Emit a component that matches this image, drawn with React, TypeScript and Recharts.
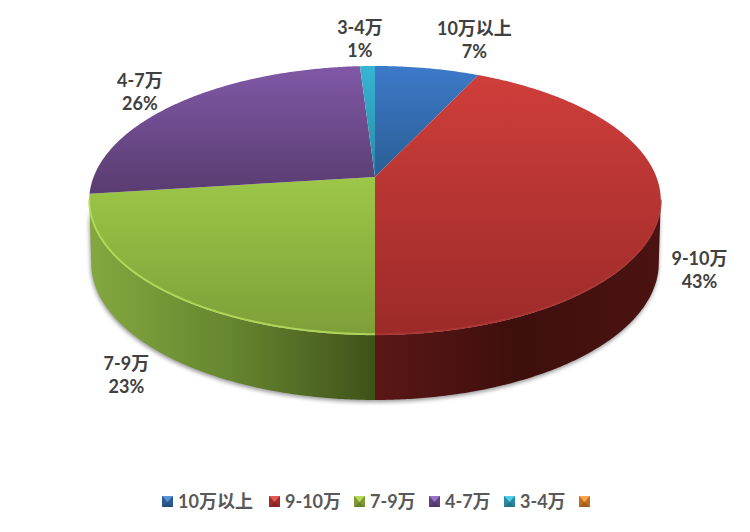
import React from "react";
import { PieChart, Pie, Legend } from "recharts";

// ---- data ----
const sliceNames = ["10万以上", "9-10万", "7-9万", "4-7万", "3-4万", ""];
const sliceValues = [7, 43, 23, 26, 1, 0];
const chartData = sliceNames.map((name, i) => ({ name, value: sliceValues[i] }));

// ---- styles ----
const topLight = ["#3c79c8", "#cf3e3a", "#9cc748", "#8058a6", "#36b5d3", "#f79646"];
const topDark = ["#2b5e95", "#9b2a29", "#7e9f38", "#593c70", "#2a8aa3", "#b86d2a"];
const wallStops = [
  ["#2b5e95", "#1c3f63"],
  ["#5a1716", "#3e0f0d", "#4b1312"],
  ["#84a83f", "#66852f", "#3f5219"],
  ["#593c70", "#3b2849"],
  ["#2a8aa3", "#1c5c6d"],
  ["#b86d2a", "#7a481b"],
];
const rimColors = ["#5a94dc", "#ae3836", "#b9e05f", "#9a78bb", "#6acfe6", "#f8b070"];
const legendBase = ["#2c5c92", "#a02c2a", "#7f9a35", "#5f4280", "#2a88a2", "#c06f22"];
const legendHi = ["#5a93d8", "#e05a55", "#b5dc55", "#9a72c6", "#52cfe8", "#f9a64a"];
const legendSteps = [107, 85, 75, 75, 75, 20];
const labelOffsets = [
  [47, -40],
  [39, 51.5],
  [-34.5, 73.5],
  [-40, -22],
  [-7.5, -39],
  [0, 0],
];

// ---- geometry of the tilted disc ----
const CX = 375;
const CY = 177;
const RADIUS = 281.4;
const K = 0.1747;
const TILT = 0.4634;
const WALL_DROP = 62;
const WALL_SCALE = 0.993;
const WALL_TILT = 1.0186;
const FRONT_FROM = 100;
const FRONT_TO = 260;

const project = (theta: number, r: number, wall = false) => {
  const t = (theta * Math.PI) / 180;
  const u = Math.sin(t) * r;
  const v = -Math.cos(t) * r;
  const w = 1 - K * v;
  return {
    x: CX + (RADIUS * (wall ? WALL_SCALE : 1) * u) / w,
    y: CY + (wall ? WALL_DROP : 0) + (RADIUS * TILT * (wall ? WALL_TILT : 1) * v) / w,
  };
};
const arc = (a: number, b: number, wall = false) => {
  const pts: string[] = [];
  const n = Math.max(2, Math.ceil(Math.abs(b - a) * 2));
  for (let i = 0; i <= n; i++) {
    const p = project(a + ((b - a) * i) / n, 1, wall);
    pts.push(`${p.x.toFixed(2)} ${p.y.toFixed(2)}`);
  }
  return pts;
};
const thetaRange = (props: any) => [90 - props.startAngle, 90 - props.endAngle];
const frontRange = (a: number, b: number) => [Math.max(a, FRONT_FROM), Math.min(b, FRONT_TO)];

const TopShape = (props: any) => {
  const [a, b] = thetaRange(props);
  if (b - a <= 0) return <g />;
  const i = sliceNames.indexOf(props.name);
  const id = `top-${i}`;
  const d = `M ${CX} ${CY} L ${arc(a, b).join(" L ")} Z`;
  const [fa, fb] = frontRange(a, b);
  return (
    <g>
      <defs>
        <linearGradient id={id} x1="0" y1="0" x2="0" y2="1">
          <stop offset="0" stopColor={topLight[i]} />
          <stop offset="1" stopColor={topDark[i]} />
        </linearGradient>
      </defs>
      <path d={d} fill={`url(#${id})`} stroke="none" />
      {fb > fa && (
        <path
          d={`M ${arc(fa, fb).join(" L ")}`}
          fill="none"
          stroke={rimColors[i]}
          strokeWidth={2}
          opacity={0.8}
          transform="translate(0,-0.8)"
        />
      )}
    </g>
  );
};

const wallPath = (fa: number, fb: number) =>
  `M ${arc(fa, fb).join(" L ")} L ${arc(fb, fa, true).join(" L ")} Z`;

const WallShape = (props: any) => {
  const [a, b] = thetaRange(props);
  const [fa, fb] = frontRange(a, b);
  if (fb <= fa) return <g />;
  const i = sliceNames.indexOf(props.name);
  const id = `wall-${i}`;
  const stops = wallStops[i];
  return (
    <g>
      <defs>
        <linearGradient id={id} x1="0" y1="0" x2="1" y2="0">
          {stops.map((c, s) => (
            <stop key={s} offset={s / (stops.length - 1)} stopColor={c} />
          ))}
        </linearGradient>
      </defs>
      <path d={wallPath(fa, fb)} fill={`url(#${id})`} stroke="none" />
    </g>
  );
};

const ShadowShape = (props: any) => {
  const [a, b] = thetaRange(props);
  const [fa, fb] = frontRange(a, b);
  if (fb <= fa) return <g />;
  return (
    <path
      d={wallPath(fa, fb)}
      fill="#000"
      opacity={0.42}
      filter="url(#wallBlur)"
      transform="translate(-0.5,2)"
    />
  );
};

const SliceLabel = (props: any) => {
  const i = sliceNames.indexOf(props.name);
  if (!props.value) return null;
  const p = project(90 - props.midAngle, 1);
  const x = p.x + labelOffsets[i][0];
  const y = p.y + labelOffsets[i][1];
  const style = {
    fontFamily: 'Lato, "Noto Sans CJK SC", sans-serif',
    fontSize: 18,
    fontWeight: 700,
    fill: "#404040",
  };
  return (
    <g>
      <text x={x} y={y} textAnchor="middle" dominantBaseline="central" style={style}>
        {props.name}
      </text>
      <text x={x} y={y + 23} textAnchor="middle" dominantBaseline="central" style={style}>
        {`${Math.round(props.percent * 100)}%`}
      </text>
    </g>
  );
};

const LegendIcon = ({ i }: { i: number }) => (
  <svg width={11} height={11} style={{ display: "block", flex: "none" }}>
    <rect width={11} height={11} fill={legendBase[i]} />
    <polygon points="0,0 11,0 5.5,5.5" fill={legendHi[i]} />
    <polygon points="3,3 8,3 5.5,6.5" fill={legendHi[i]} opacity={0.7} />
    <polygon points="0,11 11,11 5.5,6" fill="#000" opacity={0.15} />
  </svg>
);

const LegendRow = () => (
  <div
    style={{
      display: "flex",
      alignItems: "center",
      justifyContent: "flex-start",
      paddingLeft: 162,
      fontFamily: 'Lato, "Noto Sans CJK SC", sans-serif',
      fontSize: 18,
      fontWeight: 700,
      color: "#595959",
      lineHeight: "22px",
      height: 22,
    }}
  >
    {sliceNames.map((name, i) => (
      <div key={i} style={{ display: "flex", alignItems: "center", width: legendSteps[i], flex: "none" }}>
        <LegendIcon i={i} />
        <span style={{ marginLeft: 5, whiteSpace: "nowrap" }}>{name}</span>
      </div>
    ))}
  </div>
);

export default function App() {
  const pieProps = {
    data: chartData,
    dataKey: "value",
    nameKey: "name",
    cx: CX,
    cy: CY,
    outerRadius: RADIUS,
    startAngle: 90,
    endAngle: -270,
    stroke: "none",
    isAnimationActive: false,
    labelLine: false,
  };
  return (
    <div style={{ position: "absolute", left: 0, top: 0, width: 750, height: 532, background: "#fff" }}>
      <PieChart width={750} height={532} margin={{ top: 0, right: 0, bottom: 0, left: 0 }}>
        <defs>
          <filter id="wallBlur" x="-10%" y="-10%" width="120%" height="130%">
            <feGaussianBlur stdDeviation="2.2" />
          </filter>
        </defs>
        <Pie {...pieProps} shape={ShadowShape} legendType="none" />
        <Pie {...pieProps} shape={WallShape} legendType="none" />
        <Pie {...pieProps} shape={TopShape} label={SliceLabel} />
        <Legend
          content={() => <LegendRow />}
          wrapperStyle={{ left: 0, top: 490, width: 750, height: 22, bottom: "auto" }}
        />
      </PieChart>
    </div>
  );
}
